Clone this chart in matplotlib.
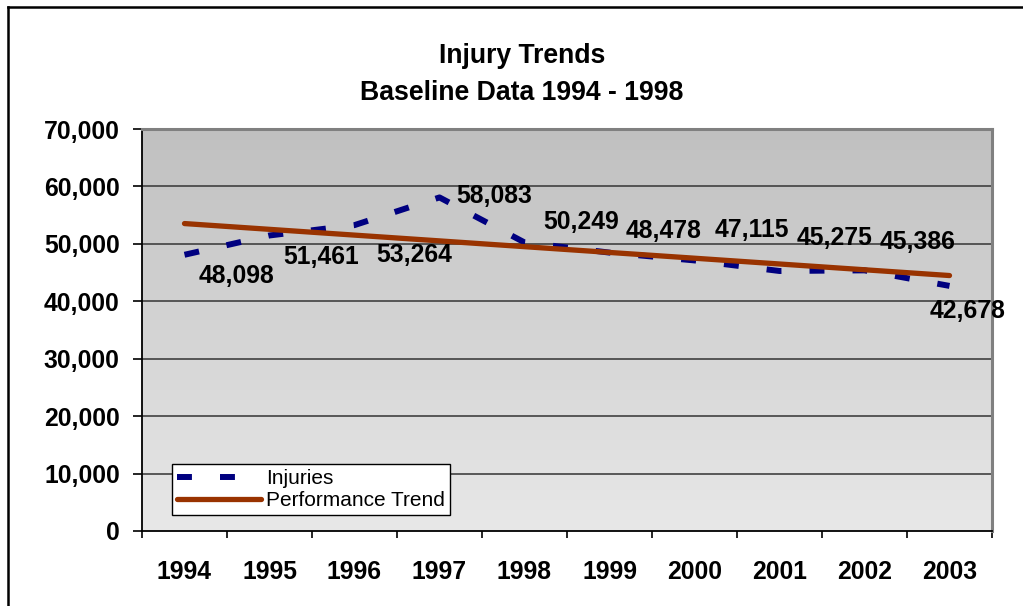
import numpy as np
import matplotlib
matplotlib.use("Agg")
import matplotlib.pyplot as plt
from matplotlib.lines import Line2D

# ---- data ----
years = ["1994", "1995", "1996", "1997", "1998", "1999", "2000", "2001", "2002", "2003"]
injuries = [48098, 51461, 53264, 58083, 50249, 48478, 47115, 45275, 45386, 42678]
value_labels = ["48,098", "51,461", "53,264", "58,083", "50,249",
                "48,478", "47,115", "45,275", "45,386", "42,678"]
yticks = [0, 10000, 20000, 30000, 40000, 50000, 60000, 70000]
ytick_labels = ["0", "10,000", "20,000", "30,000", "40,000", "50,000", "60,000", "70,000"]
title_lines = ["Injury Trends", "Baseline Data 1994 - 1998"]
series_names = ["Injuries", "Performance Trend"]

# label offsets in pixels (style/position, not data)
label_offsets = [(52, -21), (52, -22), (60, -30), (55, 1), (57, 20),
                 (54, 22), (57, 30), (55, 33), (53, 28), (18, -25)]

plt.rcParams['font.family'] = ['Liberation Sans', 'DejaVu Sans']

W, H = 1023, 606
fig = plt.figure(figsize=(W / 100, H / 100), dpi=100)
fig.patch.set_facecolor("white")

ax = fig.add_axes([142 / W, 75 / H, 850 / W, 402 / H])
x = np.arange(len(years))

# gradient background
grad = np.linspace(0, 1, 256).reshape(-1, 1)
c_top = np.array([192, 192, 192]) / 255
c_bot = np.array([232, 232, 232]) / 255
img = c_top[None, None, :] * (1 - grad[:, :, None]) + c_bot[None, None, :] * grad[:, :, None]
ax.imshow(img, extent=[0, 1, 0, 1], transform=ax.transAxes, aspect="auto", zorder=0)

ax.set_xlim(-0.5, len(years) - 0.5)
ax.set_ylim(0, 70000)

# gridlines
for yv in yticks[1:-1]:
    ax.axhline(yv, color="#404040", lw=1.2, zorder=1)

# injuries dashed line
line_inj, = ax.plot(x, injuries, color="#000080", lw=4.3, zorder=3,
                    dash_capstyle="butt", solid_capstyle="butt")
line_inj.set_dashes((2.5, 4.7))

# performance trend (linear least squares of the data)
coef = np.polyfit(x, injuries, 1)
trend = np.polyval(coef, x)
line_tr, = ax.plot(x, trend, color="#993300", lw=3.8, zorder=4, solid_capstyle="round")

# data labels
for xi, yi, lab, (dx, dy) in zip(x, injuries, value_labels, label_offsets):
    ax.annotate(lab, (xi, yi), xytext=(dx, dy), textcoords="offset pixels",
                ha="center", va="center", fontsize=17.8, fontweight="bold",
                color="black", zorder=5, annotation_clip=False)

# axes styling
ax.set_yticks(yticks)
ax.set_yticklabels(ytick_labels, fontsize=17.8, fontweight="bold")
ax.tick_params(axis="y", direction="out", length=6.5, width=1.2, pad=9.5, color="black")

ax.set_xticks(x)
ax.set_xticklabels(years, fontsize=17.8, fontweight="bold")
ax.tick_params(axis="x", which="major", length=0, pad=21)
ax.set_xticks(np.arange(-0.5, len(years) + 0.5, 1), minor=True)
ax.tick_params(axis="x", which="minor", direction="out", length=5, width=1.2, color="black")

for s in ["left", "bottom"]:
    ax.spines[s].set_color("black")
    ax.spines[s].set_linewidth(1.3)
for s in ["top", "right"]:
    ax.spines[s].set_color("#808080")
    ax.spines[s].set_linewidth(2.2)

# legend
h_inj = Line2D([], [], color="#000080", lw=4.3, dash_capstyle="butt")
h_inj.set_dashes((2.5, 4.7))
h_tr = Line2D([], [], color="#993300", lw=3.8, solid_capstyle="round")
leg = ax.legend([h_inj, h_tr], series_names, loc="lower left",
                bbox_to_anchor=(30 / 850, 16 / 402), borderaxespad=0,
                prop={"size": 15}, handlelength=4.0, handletextpad=0.25,
                labelspacing=0.12, borderpad=0.25, fancybox=False,
                framealpha=1, edgecolor="black", facecolor="white")
leg.get_frame().set_linewidth(1.0)
leg.set_zorder(6)

# title
fig.text(522 / W, 1 - 63 / H, title_lines[0], ha="center", va="baseline",
         fontsize=19.2, fontweight="bold")
fig.text(522 / W, 1 - 100 / H, title_lines[1], ha="center", va="baseline",
         fontsize=19.2, fontweight="bold")

# outer border (top and left visible)
fig.add_artist(Line2D([8 / W, 1.0], [1 - 7 / H, 1 - 7 / H], transform=fig.transFigure,
                      color="black", lw=1.8))
fig.add_artist(Line2D([8 / W, 8 / W], [0, 1 - 7 / H], transform=fig.transFigure,
                      color="black", lw=1.8))

fig.savefig("out.png", dpi=100)
